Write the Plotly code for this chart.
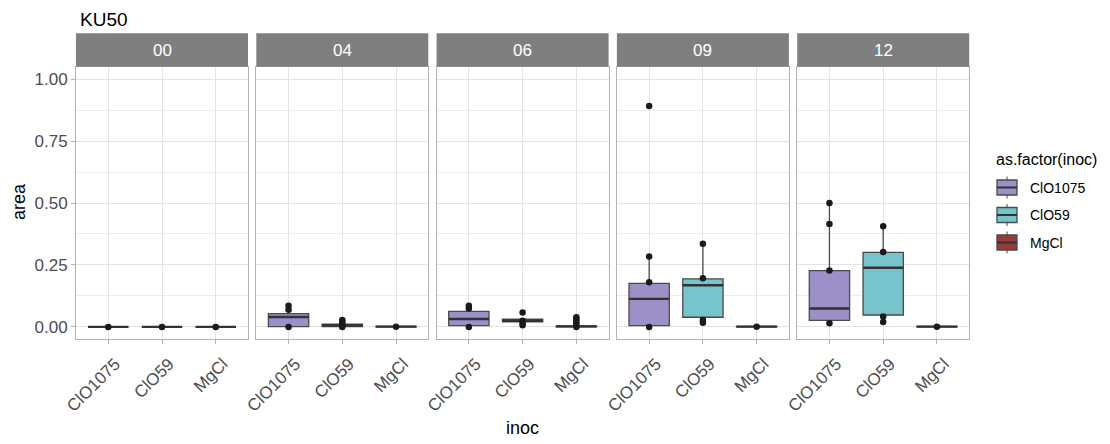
import plotly.graph_objects as go

# ---------------- data ----------------
facets = ["00", "04", "06", "09", "12"]
inocs = ["ClO1075", "ClO59", "MgCl"]

# box statistics per inoc, one value per facet
q1_ClO1075 = [0.000, 0.001, 0.005, 0.005, 0.026]
med_ClO1075 = [0.000, 0.040, 0.032, 0.113, 0.074]
q3_ClO1075 = [0.000, 0.054, 0.063, 0.176, 0.227]
lo_ClO1075 = [0.000, 0.000, 0.000, 0.000, 0.015]
hi_ClO1075 = [0.000, 0.085, 0.085, 0.284, 0.500]

q1_ClO59 = [0.000, 0.001, 0.020, 0.039, 0.048]
med_ClO59 = [0.000, 0.006, 0.025, 0.168, 0.239]
q3_ClO59 = [0.000, 0.011, 0.031, 0.194, 0.301]
lo_ClO59 = [0.000, 0.000, 0.015, 0.017, 0.020]
hi_ClO59 = [0.000, 0.028, 0.031, 0.336, 0.406]

q1_MgCl = [0.000, 0.000, 0.000, 0.000, 0.000]
med_MgCl = [0.000, 0.001, 0.002, 0.001, 0.001]
q3_MgCl = [0.000, 0.002, 0.004, 0.002, 0.002]
lo_MgCl = [0.000, 0.000, 0.000, 0.000, 0.000]
hi_MgCl = [0.000, 0.004, 0.008, 0.004, 0.004]

# observed points per inoc, one list per facet
pts_ClO1075 = [[0.0], [0.0, 0.069, 0.085], [0.0, 0.074, 0.085],
               [0.0, 0.180, 0.284, 0.891], [0.015, 0.228, 0.415, 0.500]]
pts_ClO59 = [[0.0], [0.0, 0.005, 0.012, 0.021, 0.028], [0.007, 0.015, 0.025, 0.058],
             [0.017, 0.028, 0.196, 0.336], [0.020, 0.042, 0.302, 0.406]]
pts_MgCl = [[0.0], [0.001], [0.0, 0.008, 0.016, 0.024, 0.032, 0.039],
            [0.001], [0.001]]

stats = {
    "ClO1075": (q1_ClO1075, med_ClO1075, q3_ClO1075, lo_ClO1075, hi_ClO1075, pts_ClO1075),
    "ClO59": (q1_ClO59, med_ClO59, q3_ClO59, lo_ClO59, hi_ClO59, pts_ClO59),
    "MgCl": (q1_MgCl, med_MgCl, q3_MgCl, lo_MgCl, hi_MgCl, pts_MgCl),
}
fills = {"ClO1075": "#9D8FC8", "ClO59": "#78C4CC", "MgCl": "#973A3A"}

# ---------------- layout constants ----------------
W, H = 1110, 444
OFF = 8  # page body margin in the browser
BOXW = 0.75
OUTLINE = "#4A4A4A"
panel_left0, panel_step, panel_w = 76.0 - OFF, 180.3, 172.0
top_px, bot_px, strip_top_px = 66.7 - OFF, 339.3 - OFF, 33.3 - OFF


def px(xp):
    return xp / W


def py(yp):
    return (H - yp) / H


ydom = [py(bot_px), py(top_px)]

fig = go.Figure()
layout = {}
shapes = []
annotations = []
FONT = "Liberation Sans, Arial, sans-serif"

for fi, fac in enumerate(facets):
    sfx = "" if fi == 0 else str(fi + 1)
    xa, ya = "x" + sfx, "y" + sfx
    x0 = px(panel_left0 + fi * panel_step)
    x1 = px(panel_left0 + fi * panel_step + panel_w)
    layout["xaxis" + sfx] = dict(
        domain=[x0, x1], anchor=ya, range=[-0.6, 2.6],
        tickvals=[0, 1, 2], ticktext=inocs, tickangle=-45,
        tickfont=dict(size=17, color="#4D4D4D", family=FONT),
        ticklabelshift=7, ticklabelstandoff=3,
        showgrid=True, gridcolor="#E3E3E3", gridwidth=1,
        ticks="outside", ticklen=4, tickcolor="#B3B3B3",
        showline=True, mirror=True, linecolor="#B3B3B3", linewidth=1,
        zeroline=False, fixedrange=True, automargin=False,
    )
    layout["yaxis" + sfx] = dict(
        domain=ydom, anchor=xa, range=[-0.05, 1.05],
        tickvals=[0, 0.25, 0.5, 0.75, 1.0],
        ticktext=["0.00", "0.25", "0.50", "0.75", "1.00"],
        showticklabels=(fi == 0),
        tickfont=dict(size=17, color="#4D4D4D", family=FONT),
        ticks="outside" if fi == 0 else "", ticklen=4, tickcolor="#B3B3B3",
        showgrid=True, gridcolor="#E3E3E3", gridwidth=1,
        minor=dict(tickvals=[0.125, 0.375, 0.625, 0.875], showgrid=True,
                   gridcolor="#EDEDED", gridwidth=1),
        showline=True, mirror=True, linecolor="#B3B3B3", linewidth=1,
        zeroline=False, fixedrange=True, automargin=False,
    )
    if fi > 0:
        layout["yaxis" + sfx]["matches"] = "y"

    # strip
    shapes.append(dict(type="rect", xref="paper", yref="paper",
                       x0=x0, x1=x1, y0=py(top_px), y1=py(strip_top_px),
                       fillcolor="#7F7F7F", line=dict(width=0), layer="above"))
    annotations.append(dict(text=fac, xref="paper", yref="paper",
                            x=(x0 + x1) / 2, y=py((top_px + strip_top_px) / 2),
                            showarrow=False, xanchor="center", yanchor="middle",
                            font=dict(size=17, color="white", family=FONT)))

    for ci, inoc in enumerate(inocs):
        q1, med, q3, lo, hi, pts = stats[inoc]
        fig.add_trace(go.Box(
            x=[ci], q1=[q1[fi]], median=[med[fi]], q3=[q3[fi]],
            lowerfence=[lo[fi]], upperfence=[hi[fi]],
            width=BOXW, whiskerwidth=0, boxpoints=False,
            fillcolor=fills[inoc], line=dict(color=OUTLINE, width=1.3),
            name=inoc, showlegend=False,
            xaxis=xa, yaxis=ya, hoverinfo="skip",
        ))
        # thicker median line (ggplot fatten)
        fig.add_trace(go.Scatter(
            x=[ci - BOXW / 2, ci + BOXW / 2], y=[med[fi], med[fi]],
            mode="lines", line=dict(color="#333333", width=2.4),
            showlegend=False, xaxis=xa, yaxis=ya, hoverinfo="skip",
        ))
        fig.add_trace(go.Scatter(
            x=[ci] * len(pts[fi]), y=pts[fi], mode="markers",
            marker=dict(color="#1A1A1A", size=6.5),
            showlegend=False, xaxis=xa, yaxis=ya, hoverinfo="skip",
        ))

# titles
annotations.append(dict(text="KU50", xref="paper", yref="paper", x=px(79 - OFF), y=1.0,
                        showarrow=False, xanchor="left", yanchor="top", borderpad=0,
                        font=dict(size=19, color="black", family=FONT)))
annotations.append(dict(text="inoc", xref="paper", yref="paper", x=px(522 - OFF), y=py(428 - OFF),
                        showarrow=False, xanchor="center", yanchor="middle",
                        font=dict(size=18, color="black", family=FONT)))
annotations.append(dict(text="area", xref="paper", yref="paper", x=px(19 - OFF), y=py(202 - OFF),
                        showarrow=False, xanchor="center", yanchor="middle", textangle=-90,
                        font=dict(size=18, color="black", family=FONT)))

# legend drawn like ggplot keys
annotations.append(dict(text="as.factor(inoc)", xref="paper", yref="paper",
                        x=px(994 - OFF), y=py(160 - OFF), showarrow=False,
                        xanchor="left", yanchor="middle",
                        font=dict(size=16, color="black", family=FONT)))
for k, inoc in enumerate(inocs):
    cy = 187.5 + 27.5 * k - OFF
    kx0, kx1 = 997 - OFF, 1017 - OFF
    kxm = (kx0 + kx1) / 2
    shapes.append(dict(type="line", xref="paper", yref="paper",
                       x0=px(kxm), x1=px(kxm), y0=py(cy - 11), y1=py(cy + 11),
                       line=dict(color=OUTLINE, width=1)))
    shapes.append(dict(type="rect", xref="paper", yref="paper",
                       x0=px(kx0), x1=px(kx1), y0=py(cy + 7.5), y1=py(cy - 7.5),
                       fillcolor=fills[inoc], line=dict(color=OUTLINE, width=1.3)))
    shapes.append(dict(type="line", xref="paper", yref="paper",
                       x0=px(kx0), x1=px(kx1), y0=py(cy), y1=py(cy),
                       line=dict(color="#333333", width=2)))
    annotations.append(dict(text=inoc, xref="paper", yref="paper",
                            x=px(1028 - OFF), y=py(cy), showarrow=False,
                            xanchor="left", yanchor="middle",
                            font=dict(size=14, color="black", family=FONT)))

fig.update_layout(
    width=W, height=H,
    margin=dict(l=0, r=0, t=0, b=0),
    paper_bgcolor="white", plot_bgcolor="white",
    shapes=shapes, annotations=annotations,
    showlegend=False,
    **layout,
)

fig.write_html("out.html")
